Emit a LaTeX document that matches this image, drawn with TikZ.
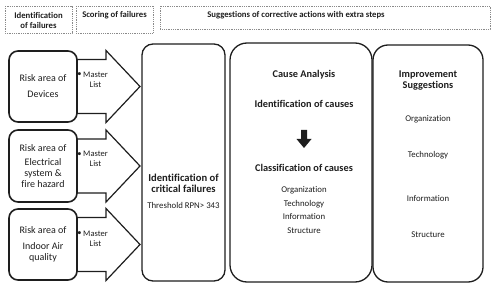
\documentclass[tikz,border=0pt]{standalone}
\usepackage{fontspec}
\setmainfont[Ligatures=NoCommon]{Carlito}
\definecolor{ink}{HTML}{1E1E1E}
\definecolor{dash}{HTML}{8A8A8A}
\tikzset{
  hdrbox/.style={draw=dash, line width=0.6pt, dash pattern=on 1pt off 0.8pt},
  hdrtext/.style={font=\fontsize{8.7}{10}\selectfont\bfseries, text=ink, align=center, inner sep=0pt},
  riskbox/.style={draw=ink, line width=1.6pt, rounded corners=9pt, fill=white},
  bigbox/.style={draw=ink, line width=1.3pt, fill=white},
  blockarrow/.style={draw=ink, line width=1.2pt, fill=white, line join=miter},
  risktext/.style={font=\fontsize{10}{11}\selectfont, text=ink, align=center, inner sep=0pt},
  mastertext/.style={font=\fontsize{8.5}{10}\selectfont, text=ink, align=center, inner sep=0pt},
  boldtext/.style={font=\fontsize{10.3}{11}\selectfont\bfseries, text=ink, align=center, inner sep=0pt},
  plaintext/.style={font=\fontsize{8.8}{10}\selectfont, text=ink, align=center, inner sep=0pt},
}
\begin{document}
\begin{tikzpicture}[x=1pt,y=-1pt]
\useasboundingbox (0,0) rectangle (500,291);
% header boxes
\draw[hdrbox] (5,6) rectangle (72,33);
\draw[hdrbox] (76,6) rectangle (153,33);
\draw[hdrbox] (160,6) rectangle (490,29);
\node[hdrtext] (h1) at (38.5,20) {Identification\\of failures};
\node[hdrtext] (h2) at (114.5,15.5) {Scoring of failures};
\node[hdrtext] (h3) at (296,15.5) {Suggestions of corrective actions with extra steps};
% block arrows
\foreach \c/\n in {86.5/a1,166/a2,244.5/a3}{
  \draw[blockarrow] (70,\c-27) -- (106,\c-27) -- (106,\c-36) -- (140,\c) -- (106,\c+36) -- (106,\c+27) -- (70,\c+27) -- cycle;
}
% risk boxes
\draw[riskbox] (9,51) rectangle (77,122);
\draw[riskbox] (9,130) rectangle (77,202);
\draw[riskbox] (9,209) rectangle (77,280);
\node[risktext] (r1) at (43,86.5) {Risk area of\\[5pt]Devices};
\node[risktext] (r2) at (43,166) {Risk area of\\[3pt]Electrical\\system \&\\fire hazard};
\node[risktext] (r3) at (43,244) {Risk area of\\[5pt]Indoor Air\\quality};
% master list labels
\node[mastertext] (b1) at (79.5,75) {\textbullet};
\node[mastertext] (m1) at (95.5,80) {Master\\List};
\node[mastertext] (b2) at (79.5,155) {\textbullet};
\node[mastertext] (m2) at (95.5,159) {Master\\List};
\node[mastertext] (b3) at (79.5,234) {\textbullet};
\node[mastertext] (m3) at (95.5,238.5) {Master\\List};
% critical failures box
\draw[bigbox, rounded corners=11pt] (142,44) rectangle (225,281);
\node[font=\fontsize{10.6}{11}\selectfont\bfseries, text=ink, align=center, inner sep=0pt] (cf) at (183.5,183) {Identification of\\critical failures};
\node[plaintext] (th) at (183.5,205) {Threshold RPN> 343};
% cause analysis box
\draw[bigbox, rounded corners=17pt] (230,43) rectangle (372,282);
\node[boldtext] (ca) at (304,75) {Cause Analysis};
\node[boldtext] (ic) at (304,104) {Identification of causes};
\fill[ink] (301,130) -- (307,130) -- (307,139) -- (311.5,139) -- (304,148) -- (296.5,139) -- (301,139) -- cycle;
\node[boldtext] (cc) at (304,168) {Classification of causes};
\node[plaintext] (c1) at (304,190) {Organization};
\node[plaintext] (c2) at (304,204) {Technology};
\node[plaintext] (c3) at (304,217) {Information};
\node[plaintext] (c4) at (304,231) {Structure};
% improvement box
\draw[bigbox, rounded corners=15pt] (373,45) rectangle (483,282);
\node[boldtext] (is) at (428,80.5) {Improvement\\Suggestions};
\node[plaintext] (i1) at (428,119) {Organization};
\node[plaintext] (i2) at (428,155) {Technology};
\node[plaintext] (i3) at (428,199) {Information};
\node[plaintext] (i4) at (428,235) {Structure};
\end{tikzpicture}
\end{document}
